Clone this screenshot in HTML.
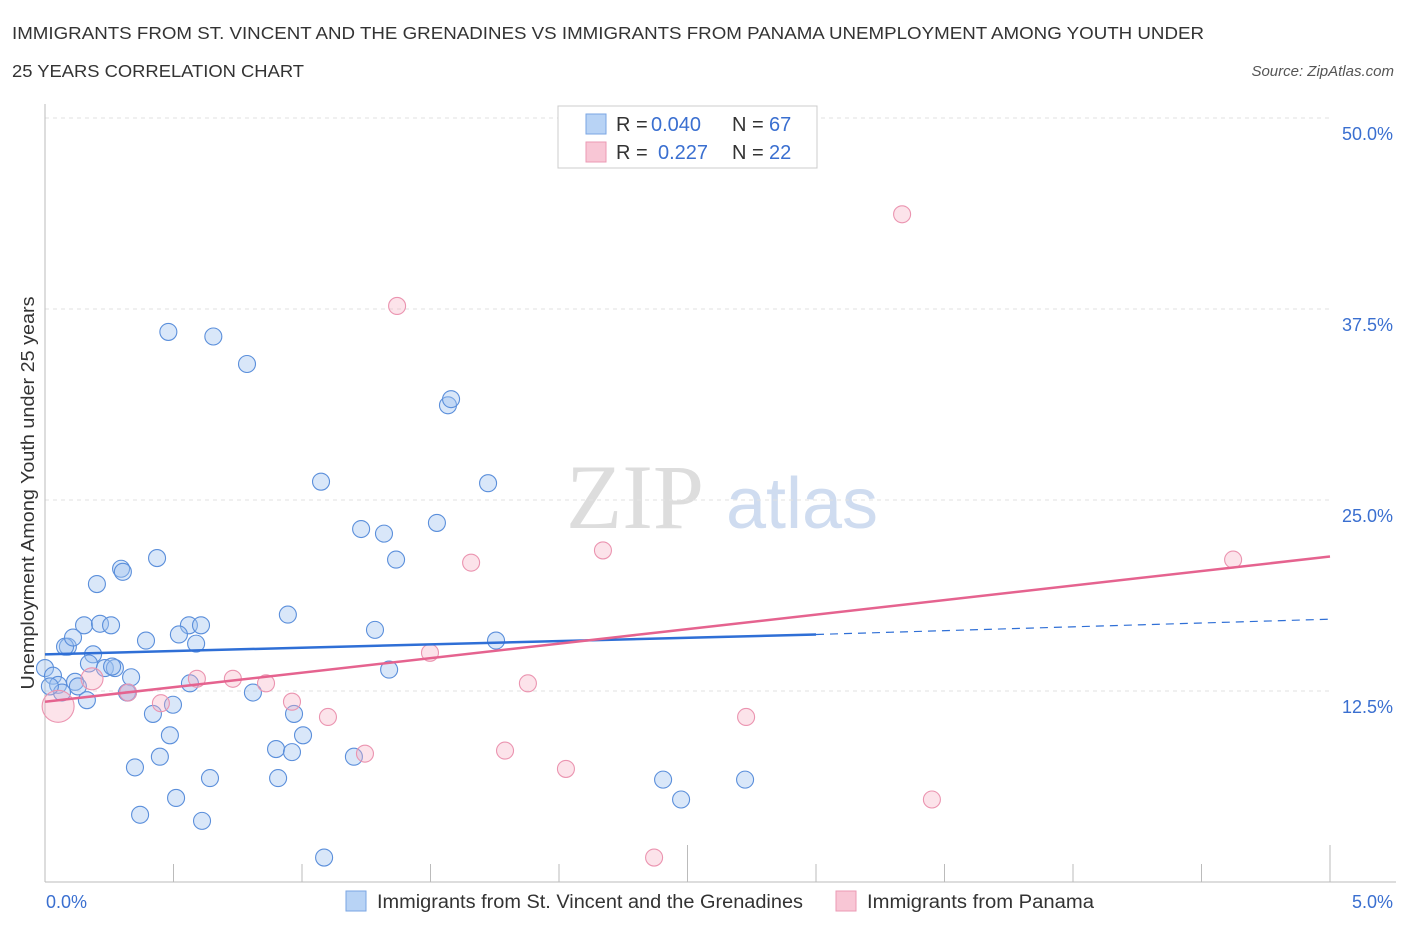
<!DOCTYPE html>
<html><head><meta charset="utf-8"><style>
body{margin:0;background:#fff;font-family:"Liberation Sans",sans-serif;}
svg{display:block}
</style></head><body>
<svg width="1406" height="930" xmlns="http://www.w3.org/2000/svg">
<text x="12" y="39" font-size="17.5" fill="#333" textLength="1192" lengthAdjust="spacingAndGlyphs">IMMIGRANTS FROM ST. VINCENT AND THE GRENADINES VS IMMIGRANTS FROM PANAMA UNEMPLOYMENT AMONG YOUTH UNDER</text>
<text x="12" y="77" font-size="17.5" fill="#333" textLength="292" lengthAdjust="spacingAndGlyphs">25 YEARS CORRELATION CHART</text>
<text x="1394" y="76" font-size="15" fill="#555" font-style="italic" text-anchor="end">Source: ZipAtlas.com</text>
<text x="635" y="528" font-size="92" fill="#ddd" font-family="Liberation Serif,serif" text-anchor="middle">ZIP</text>
<text x="802" y="528" font-size="72" fill="#cfdcf0" text-anchor="middle">atlas</text>
<g id="grid"></g>
<g id="axes"></g>
<g id="pts"></g>
<g id="lines"></g>
<text transform="translate(34,493) rotate(-90)" font-size="18" fill="#333" text-anchor="middle" textLength="393" lengthAdjust="spacingAndGlyphs">Unemployment Among Youth under 25 years</text>
<text x="46" y="908" font-size="18" fill="#3a6fd0">0.0%</text>
<text x="1393" y="908" font-size="18" fill="#3a6fd0" text-anchor="end">5.0%</text>
<g>
<rect x="346" y="891" width="20" height="20" fill="#b8d3f5" stroke="#7aa6e3"/>
<text x="377" y="908" font-size="19" fill="#333" textLength="426" lengthAdjust="spacingAndGlyphs">Immigrants from St. Vincent and the Grenadines</text>
<rect x="836" y="891" width="20" height="20" fill="#f8c6d5" stroke="#eb9ab4"/>
<text x="867" y="908" font-size="19" fill="#333" textLength="227" lengthAdjust="spacingAndGlyphs">Immigrants from Panama</text>
</g>
<g>
<rect x="558" y="106" width="259" height="62" fill="#fff" stroke="#ccc"/>
<rect x="586" y="114" width="20" height="20" fill="#b8d3f5" stroke="#7aa6e3"/>
<rect x="586" y="142" width="20" height="20" fill="#f8c6d5" stroke="#eb9ab4"/>
<text y="131" font-size="20" fill="#333"><tspan x="616">R =</tspan><tspan x="651" fill="#3a6fd0">0.040</tspan><tspan x="732">N =</tspan><tspan x="769" fill="#3a6fd0">67</tspan></text>
<text y="159" font-size="20" fill="#333"><tspan x="616">R =</tspan><tspan x="658" fill="#3a6fd0">0.227</tspan><tspan x="732">N =</tspan><tspan x="769" fill="#3a6fd0">22</tspan></text>
</g>
</svg>
<script>
const yTicks=[12.5,25,37.5,50];
const yTickLabels=["12.5%","25.0%","37.5%","50.0%"];
const xTicks=[0,0.5,1,1.5,2,2.5,3,3.5,4,4.5,5];
const blueX=[0.480,0.655,0.786,1.568,1.580,1.074,1.724,1.230,1.319,1.525,1.366,0.436,0.296,0.303,0.202,0.152,0.214,0.257,0.089,0.078,0.109,0.393,0.560,0.607,0.521,0.588,0.945,1.284,1.755,0.187,0.171,0.233,0.272,0.261,0.335,0.0,0.031,0.051,0.117,0.128,0.066,0.163,0.319,0.323,0.564,0.809,1.339,0.420,0.498,0.969,1.004,0.486,0.899,0.961,0.447,1.202,0.350,0.642,0.907,2.405,2.724,0.510,2.475,0.370,0.611,1.086,0.019];
const blueY=[36.0,35.7,33.9,31.2,31.6,26.2,26.1,23.1,22.8,23.5,21.1,21.2,20.5,20.3,19.5,16.8,16.9,16.8,15.4,15.4,16.0,15.8,16.8,16.8,16.2,15.6,17.5,16.5,15.8,14.9,14.3,14.0,14.0,14.1,13.4,14.0,13.5,12.9,13.1,12.8,12.4,11.9,12.4,12.4,13.0,12.4,13.9,11.0,11.6,11.0,9.6,9.6,8.7,8.5,8.2,8.2,7.5,6.8,6.8,6.7,6.7,5.5,5.4,4.4,4.0,1.6,12.8];
const pinkX=[3.335,1.370,2.171,1.658,4.623,1.498,0.591,0.731,0.860,1.879,0.961,0.451,1.101,2.728,1.790,1.245,2.027,3.451,2.370,0.051,0.183,0.323];
const pinkY=[43.7,37.7,21.7,20.9,21.1,15.0,13.3,13.3,13.0,13.0,11.8,11.7,10.8,10.8,8.6,8.4,7.4,5.4,1.6,11.5,13.3,12.4];
const pinkR=[8.5,8.5,8.5,8.5,8.5,8.5,8.5,8.5,8.5,8.5,8.5,8.5,8.5,8.5,8.5,8.5,8.5,8.5,8.5,16,11,8.5];
const blueTrend=[[0,14.9],[3,16.2]];
const blueTrendExt=[[3,16.2],[5,17.2]];
const pinkTrend=[[0,11.8],[5,21.3]];
const X=v=>45+v/5*1285, Y=v=>882-v/12.5*191;
const NS="http://www.w3.org/2000/svg";
function mk(p,t,a){const e=document.createElementNS(NS,t);for(const k in a)e.setAttribute(k,a[k]);p.appendChild(e);return e;}
const grid=document.getElementById('grid'),axes=document.getElementById('axes'),pts=document.getElementById('pts'),lines=document.getElementById('lines');
yTicks.forEach((v,i)=>{
 const l=mk(grid,'line',{x1:45,x2:1330,y1:Y(v),y2:Y(v),stroke:'#e2e2e2','stroke-dasharray':'4,4'});
 
 
 const t=mk(grid,'text',{x:1393,y:Y(v)+22,'font-size':18,fill:'#3a6fd0','text-anchor':'end'});
 t.textContent=yTickLabels[i];
 
 
});
const ya=mk(axes,'line',{x1:45,x2:45,y1:104,y2:882,stroke:'#bbb'});


const xa=mk(axes,'line',{x1:45,x2:1396,y1:882,y2:882,stroke:'#bbb'});


xTicks.forEach((v,i)=>{
 const tall=(i==5||i==10);
 const t=mk(axes,'line',{x1:X(v),x2:X(v),y1:tall?845:864,y2:882,stroke:'#bbb'});
 
 
});
blueX.forEach((v,i)=>{
 const c=mk(pts,'circle',{cx:X(v),cy:Y(blueY[i]),r:8.5,fill:'rgba(160,195,240,0.4)',stroke:'#5b8fdb','stroke-width':1.1});
 
 
});
pinkX.forEach((v,i)=>{
 const c=mk(pts,'circle',{cx:X(v),cy:Y(pinkY[i]),r:pinkR[i],fill:'rgba(245,175,195,0.35)',stroke:'#eb94b0','stroke-width':1.1});
 
 
});
function ln(p,attrs,name){const l=mk(lines,'line',Object.assign({x1:X(p[0][0]),y1:Y(p[0][1]),x2:X(p[1][0]),y2:Y(p[1][1])},attrs));}
ln(blueTrend,{stroke:'#2f6fd6','stroke-width':2.5},'trendline-stvincent');
ln(blueTrendExt,{stroke:'#2f6fd6','stroke-width':1.2,'stroke-dasharray':'8,6'},'trendline-stvincent-extension');
ln(pinkTrend,{stroke:'#e5638f','stroke-width':2.5},'trendline-panama');
</script>
</body></html>
